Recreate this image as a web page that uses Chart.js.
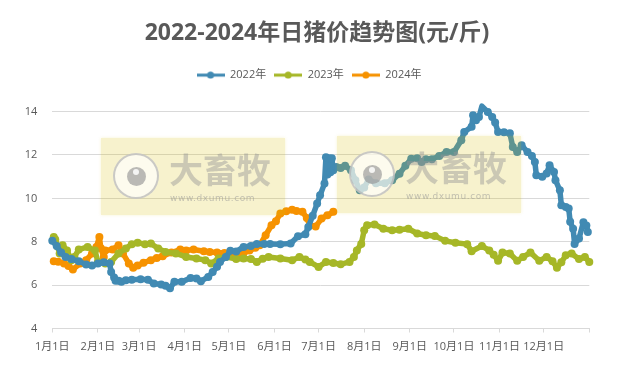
<!DOCTYPE html>
<html>
<head>
<meta charset="utf-8">
<title>日猪价趋势图</title>
<script src="https://cdn.jsdelivr.net/npm/chart.js@4"></script>
<style>
html, body { margin: 0; padding: 0; background: #fff; }
#wrap { position: relative; width: 631px; height: 369px; overflow: hidden; }
canvas { display: block; }
.wm { position: absolute; width: 184px; height: 77px; background: rgba(215,191,3,.2); box-shadow: 0 0 3px rgba(215,191,3,.18); }
.wm .logo { position: absolute; left: 12px; top: 15px; width: 42px; height: 42px; border: 2px solid rgba(175,175,175,.65); border-radius: 50%; background: rgba(255,255,255,.65); }
.wm .eye { position: absolute; left: 12px; top: 12px; width: 19px; height: 19px; border-radius: 50%; background: rgba(150,150,150,.65); }
.wm .glint { position: absolute; left: 6px; top: 2px; width: 6px; height: 6px; border-radius: 50%; background: rgba(255,255,255,.85); }
.wm .name { position: absolute; left: 68px; top: 8px; font: bold 34px/46px "Noto Sans CJK SC", sans-serif; color: rgba(150,150,150,.45); white-space: nowrap; }
.wm .url { position: absolute; left: 69px; top: 54px; font: 9px/12px "DejaVu Sans", sans-serif; letter-spacing: .6px; color: rgba(150,150,150,.55); white-space: nowrap; }
</style>
</head>
<body>
<div id="wrap">
  <canvas id="priceChart" width="631" height="369"></canvas>
  <div class="wm" style="left:101px;top:138px"><div class="logo"><div class="eye"><div class="glint"></div></div></div><div class="name">大畜牧</div><div class="url">www.dxumu.com</div></div>
  <div class="wm" style="left:337px;top:136px"><div class="logo"><div class="eye"><div class="glint"></div></div></div><div class="name">大畜牧</div><div class="url">www.dxumu.com</div></div>
</div>
<script>
// --- DATA (x = day of the year) ---
const monthStarts = [0, 31, 59, 90, 120, 151, 181, 212, 243, 273, 304, 334, 365];
const monthLabels = ['1月1日', '2月1日', '3月1日', '4月1日', '5月1日', '6月1日', '7月1日', '8月1日', '9月1日', '10月1日', '11月1日', '12月1日', ''];
const yTicks = [4, 6, 8, 10, 12, 14];

const days2022 = [0, 3, 6, 9, 13, 18, 23, 27, 31, 35, 39, 40, 42, 43, 45, 47, 50, 54, 60, 65, 69, 74, 77, 80, 83, 88, 94, 98, 101, 106, 109, 112, 114, 118, 121, 125, 130, 135, 139, 144, 148, 155, 162, 167, 172, 174, 177, 180, 182, 185, 186, 187, 188, 189, 190, 191, 193, 196, 199, 203, 206, 209, 212, 215, 220, 226, 231, 236, 240, 244, 248, 251, 254, 258, 263, 268, 273, 278, 280, 285, 286, 288, 290, 292, 296, 299, 301, 303, 307, 311, 313, 316, 319, 323, 326, 328, 329, 333, 336, 338, 341, 342, 345, 346, 349, 351, 352, 354, 355, 358, 361, 363, 364];
const values2022 = [8.04, 7.8, 7.5, 7.3, 7.2, 7.1, 6.95, 6.9, 7.0, 7.05, 7.0, 6.6, 6.35, 6.2, 6.2, 6.15, 6.22, 6.25, 6.27, 6.25, 6.07, 6.03, 5.97, 5.85, 6.15, 6.15, 6.33, 6.3, 6.18, 6.38, 6.6, 6.85, 7.07, 7.3, 7.58, 7.55, 7.76, 7.8, 7.9, 7.9, 7.9, 7.89, 7.92, 8.25, 8.35, 8.68, 9.2, 9.76, 10.14, 10.68, 11.9, 11.1, 11.85, 11.2, 11.85, 11.3, 11.45, 11.4, 11.5, 11.3, 10.84, 10.37, 10.5, 10.87, 10.7, 10.7, 10.84, 11.14, 11.5, 11.83, 11.85, 11.68, 11.8, 11.8, 11.95, 12.14, 12.14, 12.68, 13.06, 13.3, 13.83, 13.6, 13.75, 14.25, 13.98, 13.75, 13.5, 13.06, 13.05, 13.0, 12.37, 12.14, 12.45, 12.14, 11.95, 11.68, 11.07, 11.0, 11.15, 11.53, 11.22, 10.84, 10.37, 9.68, 9.6, 9.53, 8.92, 8.6, 7.9, 8.15, 8.9, 8.75, 8.45];

const days2023 = [1, 2, 4, 5, 7, 10, 13, 15, 18, 24, 29, 31, 36, 40, 45, 50, 54, 58, 63, 67, 72, 77, 84, 91, 98, 104, 108, 113, 118, 125, 130, 135, 139, 143, 147, 155, 163, 168, 172, 175, 181, 186, 191, 196, 202, 205, 207, 210, 212, 214, 219, 225, 231, 236, 242, 248, 254, 260, 267, 274, 282, 285, 292, 297, 300, 303, 306, 311, 316, 320, 325, 331, 336, 340, 343, 346, 349, 353, 358, 362, 365];
const values2023 = [8.22, 8.1, 7.76, 7.46, 7.84, 7.6, 7.15, 7.3, 7.64, 7.76, 7.6, 7.07, 7.0, 7.07, 7.46, 7.69, 7.89, 7.95, 7.89, 7.92, 7.69, 7.53, 7.46, 7.3, 7.23, 7.15, 7.0, 7.23, 7.3, 7.2, 7.23, 7.2, 7.07, 7.22, 7.3, 7.23, 7.15, 7.3, 7.18, 7.07, 6.84, 7.07, 7.02, 6.96, 7.07, 7.3, 7.6, 7.9, 8.53, 8.76, 8.8, 8.6, 8.53, 8.55, 8.6, 8.38, 8.3, 8.27, 8.04, 7.95, 7.89, 7.56, 7.8, 7.6, 7.4, 7.12, 7.5, 7.46, 7.12, 7.3, 7.5, 7.12, 7.3, 7.1, 6.8, 7.05, 7.38, 7.46, 7.2, 7.3, 7.07];

const days2024 = [1, 4, 8, 11, 14, 19, 23, 27, 30, 32, 33, 35, 36, 41, 45, 48, 52, 55, 58, 62, 67, 71, 75, 81, 87, 91, 96, 103, 107, 112, 117, 121, 125, 130, 134, 138, 141, 145, 149, 152, 155, 159, 163, 166, 170, 173, 175, 179, 183, 187, 191];
const values2024 = [7.1, 7.08, 7.0, 6.88, 6.72, 7.0, 7.15, 7.46, 7.76, 8.22, 7.7, 7.3, 7.6, 7.64, 7.84, 7.46, 7.0, 6.8, 6.9, 7.03, 7.15, 7.25, 7.33, 7.5, 7.64, 7.6, 7.64, 7.56, 7.53, 7.5, 7.48, 7.46, 7.38, 7.48, 7.6, 7.72, 7.84, 8.3, 8.76, 8.95, 9.3, 9.4, 9.48, 9.42, 9.38, 9.1, 8.76, 8.7, 9.07, 9.22, 9.38];

const seriesNames = ['2022年', '2023年', '2024年'];
const seriesColors = ['#418AB3', '#A6B727', '#F69200'];

// --- HELPERS ---
const toPoints = (days, values) => days.map((d, i) => ({ x: d, y: values[i] }));

// legend swatch: short line with a dot on it
function swatch(color) {
    const c = document.createElement('canvas');
    c.width = 28;
    c.height = 8;
    const g = c.getContext('2d');
    g.fillStyle = color;
    g.fillRect(0, 2.5, 28, 3);
    g.beginPath();
    g.arc(14, 4, 3.5, 0, Math.PI * 2);
    g.fill();
    return c;
}

function lineSet(i, days, values) {
    return {
        label: seriesNames[i],
        data: toPoints(days, values),
        borderColor: seriesColors[i],
        backgroundColor: seriesColors[i],
        borderWidth: 5.5,
        borderJoinStyle: 'round',
        borderCapStyle: 'round',
        pointRadius: 4,
        pointBorderWidth: 0,
        tension: 0,
        clip: false
    };
}

// the legend sits left of the title in the reference, and closer to it than the layout allows
const moveLegend = {
    id: 'moveLegend',
    afterLayout(chart) {
        chart.legend.left -= 8;
        chart.legend.right -= 8;
        chart.legend.top -= 21;
        chart.legend.bottom -= 21;
    }
};

const fontFamily = '"Open Sans", "Noto Sans CJK SC", sans-serif';

// --- CHART ---
new Chart(document.getElementById('priceChart'), {
    type: 'line',
    data: {
        datasets: [
            lineSet(0, days2022, values2022),
            lineSet(1, days2023, values2023),
            lineSet(2, days2024, values2024)
        ]
    },
    plugins: [moveLegend],
    options: {
        responsive: false,
        animation: false,
        layout: { autoPadding: false, padding: { left: 3, right: 0, top: 14, bottom: 0 } },
        plugins: {
            tooltip: { enabled: false },
            title: {
                display: true,
                text: '2022-2024年日猪价趋势图(元/斤)',
                color: '#595959',
                font: { family: fontFamily, size: 23, weight: 'bold' },
                padding: { top: 6, bottom: 35 }
            },
            legend: {
                display: true,
                position: 'top',
                labels: {
                    usePointStyle: true,
                    pointStyleWidth: 28,
                    boxHeight: 8,
                    padding: 8,
                    color: '#595959',
                    font: { family: fontFamily, size: 11 },
                    generateLabels: (chart) => chart.data.datasets.map((ds, i) => ({
                        text: ds.label,
                        fontColor: '#595959',
                        datasetIndex: i,
                        pointStyle: swatch(seriesColors[i]),
                        lineWidth: 0,
                        hidden: false
                    }))
                }
            }
        },
        scales: {
            x: {
                type: 'linear',
                min: 0,
                max: 365,
                afterBuildTicks: (axis) => { axis.ticks = monthStarts.map(v => ({ value: v })); },
                afterFit: (axis) => { axis.height = 40.5; },
                ticks: {
                    autoSkip: false,
                    maxRotation: 0,
                    padding: 8,
                    color: '#595959',
                    font: { family: fontFamily, size: 11 },
                    callback: (v) => monthLabels[monthStarts.indexOf(v)]
                },
                grid: { drawOnChartArea: false, drawTicks: true, tickLength: 4, color: '#D9D9D9' },
                border: { color: '#D9D9D9' }
            },
            y: {
                min: 4,
                max: 14,
                afterBuildTicks: (axis) => { axis.ticks = yTicks.map(v => ({ value: v })); },
                afterFit: (axis) => { axis.width = 49.3; },
                ticks: {
                    padding: 15,
                    color: '#595959',
                    font: { family: fontFamily, size: 11 }
                },
                grid: { drawTicks: false, color: '#D9D9D9' },
                border: { display: false }
            },
            // empty axis that only keeps the margin right of the plot
            yRight: {
                position: 'right',
                display: true,
                afterFit: (axis) => { axis.width = 41.7; },
                ticks: { display: false },
                grid: { display: false },
                border: { display: false }
            }
        }
    }
});
</script>
</body>
</html>
